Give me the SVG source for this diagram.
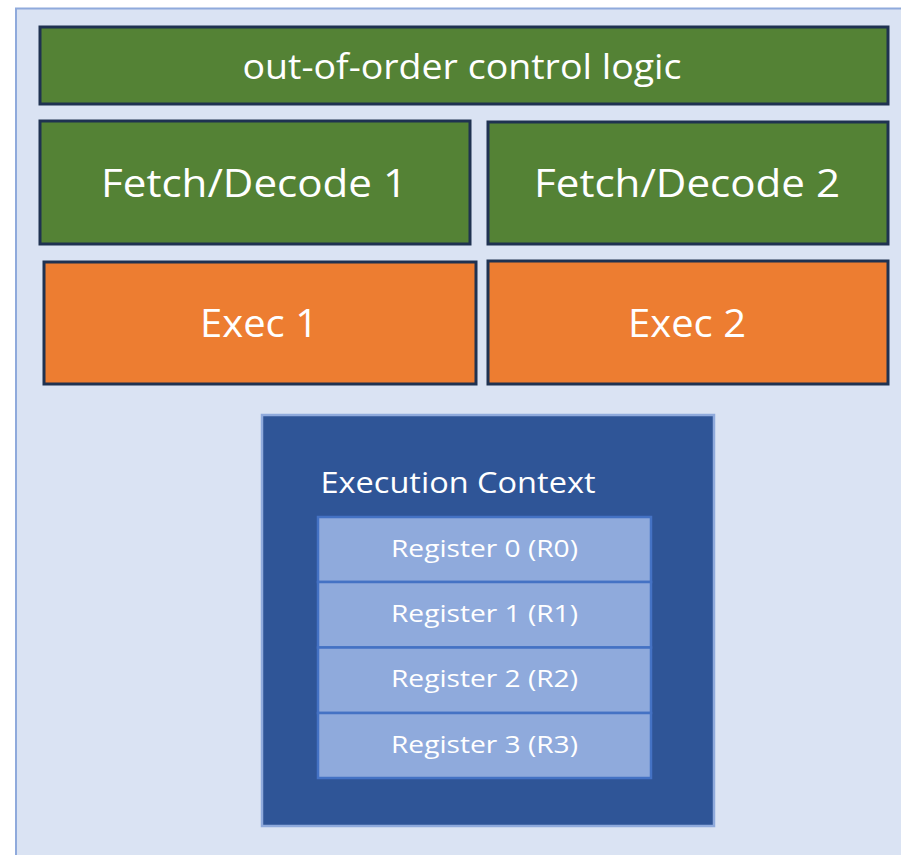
<svg xmlns="http://www.w3.org/2000/svg" width="901" height="855" viewBox="0 0 901 855">
  <style>
    .lbl { font-family: "Open Sans", "Liberation Sans", sans-serif; fill: #ffffff; text-anchor: middle; dominant-baseline: central; }
    .green { fill: #548235; stroke: #1f3251; stroke-width: 3; }
    .orange { fill: #ed7d31; stroke: #1f3251; stroke-width: 3; }
    .reg { fill: #8faadc; stroke: #4472c4; stroke-width: 2.5; }
  </style>
  <rect width="901" height="855" fill="#ffffff"/>
  <!-- outer core frame -->
  <g id="core">
    <rect x="16" y="8.5" width="900" height="860" fill="#dae3f3" stroke="#8faadc" stroke-width="2"/>
  </g>
  <g id="ooo-logic">
    <rect class="green" x="40" y="27" width="848" height="77"/>
    <text class="lbl" x="462" y="66" font-size="34" textLength="439" lengthAdjust="spacingAndGlyphs">out-of-order control logic</text>
  </g>
  <g id="fetch1">
    <rect class="green" x="40" y="121" width="430" height="123"/>
    <text class="lbl" x="254" y="182" font-size="38" textLength="306" lengthAdjust="spacingAndGlyphs">Fetch/Decode 1</text>
  </g>
  <g id="fetch2">
    <rect class="green" x="488" y="122" width="400" height="122"/>
    <text class="lbl" x="687" y="182" font-size="38" textLength="306" lengthAdjust="spacingAndGlyphs">Fetch/Decode 2</text>
  </g>
  <g id="exec1">
    <rect class="orange" x="44" y="262" width="432" height="122"/>
    <text class="lbl" x="259" y="322" font-size="38" textLength="118" lengthAdjust="spacingAndGlyphs">Exec 1</text>
  </g>
  <g id="exec2">
    <rect class="orange" x="488" y="261" width="400" height="123"/>
    <text class="lbl" x="687" y="322" font-size="38" textLength="118" lengthAdjust="spacingAndGlyphs">Exec 2</text>
  </g>
  <g id="exec-context">
    <rect x="262" y="415" width="452" height="411" fill="#2f5597" stroke="#8faadc" stroke-width="2.5"/>
    <text class="lbl" x="458" y="481" font-size="30" textLength="275" lengthAdjust="spacingAndGlyphs">Execution Context</text>
  </g>
  <g id="reg0">
    <rect class="reg" x="318" y="517" width="333" height="65"/>
    <text class="lbl" x="484.5" y="548" font-size="23" textLength="187" lengthAdjust="spacingAndGlyphs">Register 0 (R0)</text>
  </g>
  <g id="reg1">
    <rect class="reg" x="318" y="582" width="333" height="65.5"/>
    <text class="lbl" x="484.5" y="613" font-size="23" textLength="187" lengthAdjust="spacingAndGlyphs">Register 1 (R1)</text>
  </g>
  <g id="reg2">
    <rect class="reg" x="318" y="647.5" width="333" height="65.5"/>
    <text class="lbl" x="484.5" y="678" font-size="23" textLength="187" lengthAdjust="spacingAndGlyphs">Register 2 (R2)</text>
  </g>
  <g id="reg3">
    <rect class="reg" x="318" y="713" width="333" height="65"/>
    <text class="lbl" x="484.5" y="744" font-size="23" textLength="187" lengthAdjust="spacingAndGlyphs">Register 3 (R3)</text>
  </g>
  <g id="connectors"/>
</svg>
